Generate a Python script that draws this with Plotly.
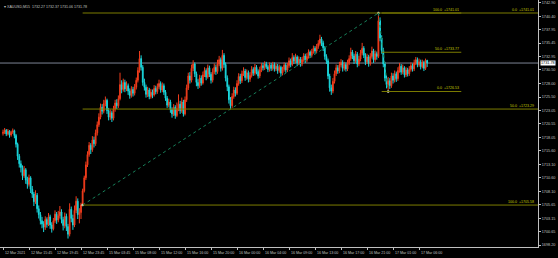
import plotly.graph_objects as go

# ---------------- data (XAUUSD, M15) ----------------
opens = [
 1718.8,1719.0,1719.4,1718.7,1719.2,1718.5,1719.0,1719.3,1718.4,1716.8,
 1714.6,1713.2,1712.5,1711.0,1712.1,1710.2,1709.4,1710.6,1708.5,1707.6,
 1706.2,1707.4,1704.9,1703.8,1702.7,1702.1,1701.5,1702.9,1702.0,1703.4,
 1701.9,1701.2,1702.7,1703.9,1702.8,1703.6,1704.3,1702.9,1701.8,1703.5,
 1701.6,1700.2,1704.8,1703.1,1701.9,1704.6,1706.3,1703.8,1704.2,1705.6,
 1708.2,1710.6,1713.0,1714.9,1716.6,1715.8,1717.6,1716.9,1718.9,1720.4,
 1721.8,1723.6,1722.9,1724.3,1724.9,1723.0,1721.8,1722.6,1721.6,1723.3,
 1724.4,1723.9,1725.2,1727.8,1726.9,1728.2,1727.0,1727.6,1726.6,1725.8,
 1726.9,1726.2,1727.3,1728.6,1730.4,1732.6,1731.0,1728.2,1727.3,1726.0,
 1726.8,1725.6,1726.4,1725.9,1727.1,1726.5,1727.4,1728.0,1726.8,1727.6,
 1726.4,1725.3,1724.0,1724.6,1723.2,1722.4,1723.6,1722.1,1723.4,1724.2,
 1723.0,1724.6,1722.4,1725.0,1727.2,1729.4,1728.6,1730.8,1731.6,1729.8,
 1728.2,1727.6,1729.0,1728.1,1729.6,1730.4,1729.2,1730.9,1729.7,1728.6,
 1730.1,1731.0,1730.2,1731.6,1732.4,1730.8,1733.2,1731.5,1729.0,1727.4,
 1725.0,1723.9,1725.6,1726.8,1726.2,1728.0,1729.3,1728.5,1729.8,1730.3,
 1729.1,1730.0,1728.8,1729.5,1730.6,1729.9,1731.0,1730.2,1729.4,1730.5,
 1731.3,1730.9,1731.6,1731.1,1730.6,1731.4,1730.8,1731.5,1730.7,1731.2,
 1730.4,1731.0,1729.9,1730.6,1731.4,1730.5,1731.3,1732.2,1731.5,1732.8,
 1732.1,1732.9,1731.8,1732.5,1731.6,1732.4,1733.1,1732.3,1733.0,1733.8,
 1733.2,1733.9,1734.5,1734.0,1734.8,1735.4,1736.2,1735.5,1734.6,1733.0,
 1732.2,1729.4,1727.2,1726.6,1728.4,1729.8,1730.9,1730.3,1731.4,1731.9,
 1730.8,1731.5,1730.7,1731.8,1732.6,1733.8,1733.1,1732.2,1733.4,1731.6,
 1732.5,1733.6,1734.5,1733.2,1732.0,1732.9,1731.7,1733.0,1734.0,1732.4,
 1733.5,1733.0,1739.6,1736.4,1734.1,1731.6,1729.0,1727.8,1728.5,1727.6,
 1729.4,1728.6,1729.8,1728.9,1730.4,1731.2,1730.1,1730.9,1729.6,1730.5,
 1729.8,1730.6,1731.3,1730.7,1731.8,1732.4,1731.5,1732.0,1731.1,1731.9,
 1730.8,1732.27]

highs = [
 1719.5,1719.8,1719.6,1719.6,1719.4,1719.3,1719.7,1719.5,1718.7,1717.1,
 1715.0,1713.8,1712.9,1712.8,1712.4,1710.8,1711.2,1710.9,1709.1,1708.0,
 1708.3,1707.8,1705.5,1704.3,1703.4,1702.6,1703.5,1703.3,1704.1,1703.8,
 1702.4,1703.2,1704.6,1704.3,1704.5,1705.4,1704.8,1703.4,1704.2,1704.0,
 1702.1,1705.9,1705.3,1703.8,1705.5,1707.2,1706.8,1705.0,1706.0,1708.6,
 1711.0,1713.6,1715.5,1717.2,1717.0,1718.3,1718.2,1719.5,1721.0,1722.5,
 1724.3,1724.2,1725.0,1725.6,1725.2,1723.5,1723.2,1723.0,1723.9,1725.0,
 1725.1,1725.8,1730.0,1728.6,1728.9,1728.7,1728.4,1728.0,1727.1,1727.5,
 1727.4,1727.9,1729.1,1731.0,1734.0,1733.2,1731.4,1728.9,1727.8,1727.4,
 1727.2,1727.0,1726.9,1727.7,1727.6,1728.0,1728.7,1728.4,1728.2,1728.0,
 1726.8,1725.7,1725.2,1725.0,1723.6,1724.2,1724.0,1724.5,1726.0,1724.8,
 1725.4,1725.0,1725.6,1727.8,1730.0,1730.1,1731.5,1732.3,1731.9,1730.2,
 1728.8,1729.6,1729.5,1730.2,1731.0,1730.8,1731.5,1731.3,1730.1,1730.8,
 1731.7,1731.5,1732.4,1733.1,1732.8,1734.2,1733.6,1731.9,1729.5,1727.8,
 1725.5,1726.2,1727.4,1727.3,1728.6,1729.9,1729.8,1730.4,1731.0,1730.7,
 1730.6,1730.4,1730.1,1731.2,1731.0,1731.6,1731.4,1730.6,1731.1,1731.8,
 1731.8,1732.1,1732.0,1731.5,1731.9,1731.8,1732.0,1731.9,1731.7,1731.6,
 1731.5,1731.3,1731.1,1731.9,1731.8,1731.8,1732.8,1732.6,1733.6,1733.2,
 1733.5,1733.2,1733.0,1732.9,1732.9,1733.6,1733.5,1733.6,1734.3,1734.1,
 1734.4,1735.0,1734.9,1735.3,1736.0,1737.0,1736.6,1735.9,1734.9,1733.4,
 1732.6,1729.8,1727.8,1729.0,1730.4,1731.5,1731.4,1732.0,1732.5,1732.3,
 1732.0,1731.9,1732.4,1733.2,1734.6,1734.2,1733.5,1734.0,1733.8,1733.1,
 1734.2,1735.5,1734.9,1733.6,1733.5,1733.3,1733.6,1734.8,1734.4,1734.1,
 1733.9,1741.01,1740.2,1736.9,1734.6,1732.0,1729.5,1729.2,1729.0,1730.0,
 1729.9,1730.4,1730.2,1731.0,1731.8,1731.6,1731.5,1731.2,1731.0,1730.9,
 1731.2,1731.9,1731.7,1732.4,1732.9,1732.8,1732.6,1732.4,1732.4,1732.2,
 1732.6,1732.37]

lows = [
 1718.4,1718.7,1718.3,1718.4,1718.0,1718.2,1718.7,1717.9,1716.2,1713.9,
 1712.5,1711.6,1710.2,1710.6,1709.5,1708.6,1709.0,1707.8,1706.9,1705.4,
 1705.8,1704.2,1703.1,1702.0,1701.3,1700.6,1701.0,1701.4,1701.7,1701.2,
 1700.5,1700.9,1702.3,1702.1,1702.4,1703.1,1702.2,1700.9,1701.3,1700.8,
 1699.4,1699.8,1702.4,1701.0,1701.5,1704.1,1703.0,1702.2,1703.0,1705.58,
 1707.9,1710.2,1712.6,1714.5,1715.0,1715.4,1716.2,1716.5,1718.4,1720.0,
 1721.4,1722.3,1722.5,1723.8,1722.4,1721.2,1721.3,1720.9,1721.2,1722.8,
 1723.3,1723.5,1724.9,1726.2,1726.5,1726.4,1726.6,1725.9,1725.2,1725.4,
 1725.6,1725.8,1726.9,1728.2,1730.0,1730.4,1727.6,1726.7,1725.4,1725.5,
 1725.1,1725.2,1725.3,1725.6,1726.0,1726.1,1727.0,1726.3,1726.4,1725.9,
 1724.8,1723.5,1723.6,1722.6,1721.7,1722.0,1721.5,1721.8,1722.9,1722.4,
 1722.6,1721.9,1722.1,1724.6,1726.8,1728.0,1728.2,1730.3,1729.2,1727.5,
 1727.0,1727.2,1727.6,1727.8,1729.2,1728.6,1728.9,1729.2,1728.0,1728.2,
 1729.7,1729.6,1729.8,1731.2,1730.2,1730.4,1730.9,1728.4,1726.6,1724.3,
 1723.25,1723.5,1725.2,1725.6,1725.9,1727.6,1727.9,1728.1,1729.4,1728.5,
 1728.7,1728.2,1728.3,1729.1,1729.4,1729.5,1729.7,1728.9,1729.0,1730.1,
 1730.4,1730.5,1730.7,1730.1,1730.2,1730.3,1730.4,1730.2,1730.3,1729.8,
 1730.0,1729.4,1729.5,1730.2,1730.0,1730.1,1730.9,1731.0,1731.2,1731.6,
 1731.7,1731.2,1731.4,1731.1,1731.2,1732.0,1731.8,1731.9,1732.6,1732.7,
 1732.8,1733.5,1733.5,1733.6,1734.4,1735.0,1734.9,1734.0,1732.4,1731.6,
 1728.8,1726.5,1725.9,1726.2,1728.0,1729.4,1729.8,1729.9,1731.0,1730.2,
 1730.4,1730.2,1730.3,1731.4,1732.2,1732.5,1731.6,1731.8,1731.0,1731.2,
 1732.1,1733.2,1732.7,1731.4,1731.6,1731.1,1731.3,1732.6,1731.8,1732.0,
 1732.4,1732.7,1735.8,1733.5,1731.0,1728.4,1727.1,1726.53,1727.0,1727.2,
 1728.0,1728.2,1728.3,1728.5,1730.0,1729.6,1729.7,1729.1,1729.2,1729.3,
 1729.4,1730.2,1730.2,1730.3,1731.4,1731.0,1731.1,1730.6,1730.8,1730.3,
 1730.5,1731.06]

closes = [
 1719.0,1719.4,1718.7,1719.2,1718.5,1719.0,1719.3,1718.4,1716.8,1714.6,
 1713.2,1712.5,1711.0,1712.1,1710.2,1709.4,1710.6,1708.5,1707.6,1706.2,
 1707.4,1704.9,1703.8,1702.7,1702.1,1701.5,1702.9,1702.0,1703.4,1701.9,
 1701.2,1702.7,1703.9,1702.8,1703.6,1704.3,1702.9,1701.8,1703.5,1701.6,
 1700.2,1704.8,1703.1,1701.9,1704.6,1706.3,1703.8,1704.2,1705.6,1708.2,
 1710.6,1713.0,1714.9,1716.6,1715.8,1717.6,1716.9,1718.9,1720.4,1721.8,
 1723.6,1722.9,1724.3,1724.9,1723.0,1721.8,1722.6,1721.6,1723.3,1724.4,
 1723.9,1725.2,1727.8,1726.9,1728.2,1727.0,1727.6,1726.6,1725.8,1726.9,
 1726.2,1727.3,1728.6,1730.4,1732.6,1731.0,1728.2,1727.3,1726.0,1726.8,
 1725.6,1726.4,1725.9,1727.1,1726.5,1727.4,1728.0,1726.8,1727.6,1726.4,
 1725.3,1724.0,1724.6,1723.2,1722.4,1723.6,1722.1,1723.4,1724.2,1723.0,
 1724.6,1722.4,1725.0,1727.2,1729.4,1728.6,1730.8,1731.6,1729.8,1728.2,
 1727.6,1729.0,1728.1,1729.6,1730.4,1729.2,1730.9,1729.7,1728.6,1730.1,
 1731.0,1730.2,1731.6,1732.4,1730.8,1733.2,1731.5,1729.0,1727.4,1725.0,
 1723.9,1725.6,1726.8,1726.2,1728.0,1729.3,1728.5,1729.8,1730.3,1729.1,
 1730.0,1728.8,1729.5,1730.6,1729.9,1731.0,1730.2,1729.4,1730.5,1731.3,
 1730.9,1731.6,1731.1,1730.6,1731.4,1730.8,1731.5,1730.7,1731.2,1730.4,
 1731.0,1729.9,1730.6,1731.4,1730.5,1731.3,1732.2,1731.5,1732.8,1732.1,
 1732.9,1731.8,1732.5,1731.6,1732.4,1733.1,1732.3,1733.0,1733.8,1733.2,
 1733.9,1734.5,1734.0,1734.8,1735.4,1736.2,1735.5,1734.6,1733.0,1732.2,
 1729.4,1727.2,1726.6,1728.4,1729.8,1730.9,1730.3,1731.4,1731.9,1730.8,
 1731.5,1730.7,1731.8,1732.6,1733.8,1733.1,1732.2,1733.4,1731.6,1732.5,
 1733.6,1734.5,1733.2,1732.0,1732.9,1731.7,1733.0,1734.0,1732.4,1733.5,
 1733.0,1739.6,1736.4,1734.1,1731.6,1729.0,1727.8,1728.5,1727.6,1729.4,
 1728.6,1729.8,1728.9,1730.4,1731.2,1730.1,1730.9,1729.6,1730.5,1729.8,
 1730.6,1731.3,1730.7,1731.8,1732.4,1731.5,1732.0,1731.1,1731.9,1730.8,
 1732.27,1731.78]

time_labels = ["12 Mar 2021", "12 Mar 15:45", "12 Mar 19:45", "12 Mar 23:45",
               "15 Mar 03:45", "15 Mar 08:00", "15 Mar 12:00", "15 Mar 16:00",
               "15 Mar 20:00", "16 Mar 00:00", "16 Mar 04:00", "16 Mar 09:00",
               "16 Mar 13:00", "16 Mar 17:00", "16 Mar 21:00", "17 Mar 01:00",
               "17 Mar 06:00"]
time_label_bars = [0, 16, 32, 48, 64, 80, 96, 112, 128, 144, 160, 176,
                   192, 208, 224, 240, 256]

price_ticks = [1698.20, 1700.65, 1703.15, 1705.65, 1708.10, 1710.60, 1713.10,
               1715.60, 1718.05, 1720.55, 1723.05, 1725.50, 1728.00, 1730.50,
               1732.95, 1735.45, 1737.95, 1740.40, 1742.90]

# Fibonacci A: from bar 49 low to bar 231 high
fib_a_bars = [49, 231]
fib_a_levels = [1741.01, 1723.29, 1705.58]
fib_a_names = ["0.0", "50.0", "100.0"]
# Fibonacci B: from bar 231 high to bar 237 low
fib_b_bars = [231, 237]
fib_b_levels = [1741.01, 1733.77, 1726.53]
fib_b_names = ["100.0", "50.0", "0.0"]

symbol = "XAUUSD,M15"
last_price = 1731.78

# ---------------- styling ----------------
RED = "#f03c1c"
CYAN = "#1ad6dc"
FIB_LINE = "#7c7c00"
FIB_TEXT = "#c8c800"
AXIS = "#c0c0c0"
FONT = "Liberation Sans"
FS = 3.6

X_MIN, X_MAX = -1.85, 329.2
Y_MIN, Y_MAX = 1697.84, 1743.41
FIB_B_END = 282

xs = list(range(len(closes)))

fig = go.Figure()
fig.add_trace(go.Candlestick(
    x=xs, open=opens, high=highs, low=lows, close=closes,
    increasing=dict(line=dict(color=RED, width=1), fillcolor=RED),
    decreasing=dict(line=dict(color=CYAN, width=1), fillcolor=CYAN),
    whiskerwidth=0, hoverinfo="skip", showlegend=False))

shapes = []
annotations = []

# current price line
shapes.append(dict(type="line", xref="paper", x0=0, x1=1, yref="y",
                   y0=last_price, y1=last_price,
                   line=dict(color="#7d8494", width=1), layer="below"))

# fib A diagonal and levels
shapes.append(dict(type="line", xref="x", yref="y",
                   x0=fib_a_bars[0], y0=fib_a_levels[2],
                   x1=fib_a_bars[1], y1=fib_a_levels[0],
                   line=dict(color="#17805a", width=1, dash="dot")))
for lvl, name in zip(fib_a_levels, fib_a_names):
    shapes.append(dict(type="line", xref="x", yref="y",
                       x0=fib_a_bars[0], x1=X_MAX, y0=lvl, y1=lvl,
                       line=dict(color=FIB_LINE, width=1)))
    annotations.append(dict(xref="paper", x=1, yref="y", y=lvl,
                            xanchor="right", yanchor="bottom", xshift=-2, yshift=-1,
                            text=f"{name}  +{lvl:.2f}", showarrow=False,
                            font=dict(family=FONT, size=FS, color=FIB_TEXT)))

# fib B
shapes.append(dict(type="line", xref="x", yref="y",
                   x0=fib_b_bars[0], y0=fib_b_levels[0],
                   x1=fib_b_bars[1], y1=fib_b_levels[2],
                   line=dict(color="#17805a", width=1, dash="dot")))
for lvl, name in zip(fib_b_levels, fib_b_names):
    shapes.append(dict(type="line", xref="x", yref="y",
                       x0=fib_b_bars[0] + 2, x1=FIB_B_END, y0=lvl, y1=lvl,
                       line=dict(color=FIB_LINE, width=1)))
    annotations.append(dict(xref="x", x=FIB_B_END, yref="y", y=lvl,
                            xanchor="right", yanchor="bottom", yshift=-1,
                            text=f"{name}  +{lvl:.2f}", showarrow=False,
                            font=dict(family=FONT, size=FS, color=FIB_TEXT)))

# anchor dots
fig.add_trace(go.Scatter(
    x=[fib_a_bars[0], fib_a_bars[1], fib_b_bars[1]],
    y=[fib_a_levels[2], fib_a_levels[0], fib_b_levels[2]],
    mode="markers", marker=dict(color="#e8f0e0", size=2.5),
    hoverinfo="skip", showlegend=False))

# time labels
for b, t in zip(time_label_bars, time_labels):
    annotations.append(dict(xref="x", x=b, yref="paper", y=0,
                            xanchor="left", yanchor="top", xshift=0, yshift=-2,
                            text=t, showarrow=False,
                            font=dict(family=FONT, size=FS, color=AXIS)))

# current price box
annotations.append(dict(xref="paper", x=1, yref="y", y=last_price,
                        xanchor="left", yanchor="middle", xshift=2,
                        text=f"{last_price:.2f}", showarrow=False,
                        bgcolor="#ffffff", borderpad=0,
                        font=dict(family=FONT, size=FS + 0.2, color="#000000")))

# header
annotations.append(dict(xref="paper", x=0, yref="paper", y=1,
                        xanchor="left", yanchor="top", xshift=2, yshift=-3,
                        text=f"\u25be {symbol}  {opens[-1]:.2f} {highs[-1]:.2f} {lows[-1]:.2f} {closes[-1]:.2f}",
                        showarrow=False,
                        font=dict(family=FONT, size=FS, color=AXIS)))

fig.update_layout(
    width=558, height=258,
    margin=dict(l=0, r=20, t=0, b=11),
    paper_bgcolor="#000000", plot_bgcolor="#000000",
    shapes=shapes, annotations=annotations,
    xaxis=dict(range=[X_MIN, X_MAX], rangeslider=dict(visible=False),
               showgrid=False, zeroline=False, showline=True, linecolor=AXIS,
               linewidth=1, ticks="outside", ticklen=2, tickcolor=AXIS,
               tickvals=time_label_bars, showticklabels=False),
    yaxis=dict(range=[Y_MIN, Y_MAX], side="right", showgrid=False,
               zeroline=False, showline=True, linecolor=AXIS, linewidth=1,
               ticks="outside", ticklen=2, tickcolor=AXIS,
               tickvals=price_ticks, ticktext=[f"{v:.2f}" for v in price_ticks],
               tickfont=dict(family=FONT, size=FS + 0.2, color=AXIS)),
)

fig.write_html("out.html")
